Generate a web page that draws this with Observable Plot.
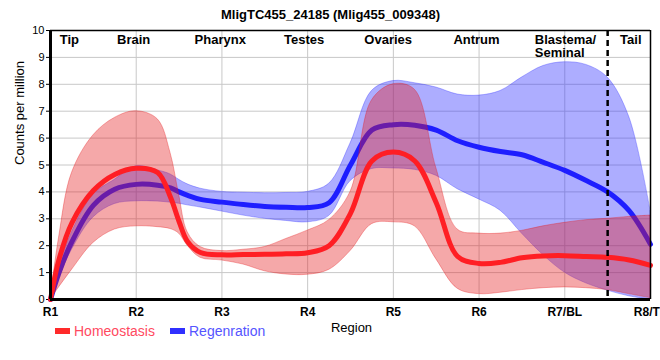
<!DOCTYPE html>
<html>
<head>
<meta charset="utf-8">
<script src="https://cdn.jsdelivr.net/npm/d3@7"></script>
<script src="https://cdn.jsdelivr.net/npm/@observablehq/plot@0.6"></script>
<style>
  html, body { margin: 0; padding: 0; background: white; overflow: hidden; }
  #wrap { position: relative; width: 660px; height: 360px; font-family: "Liberation Sans", Arial, sans-serif; }
  .leg { position: absolute; top: 323px; display: flex; align-items: center; gap: 4px; font-size: 14px; line-height: 16px; }
  .sw { display: inline-block; width: 15px; height: 6px; }
</style>
</head>
<body>
<div id="wrap"></div>
<script>
// Sampled positions along the body (1 = R1 ... 8 = R8)
const pos = [1, 1.1, 1.25, 1.5, 1.75, 2, 2.25, 2.4, 2.5, 2.6, 2.75, 3, 3.25, 3.5, 3.75, 4, 4.25, 4.5, 4.75, 5, 5.25, 5.5, 5.75, 6, 6.25, 6.5, 6.75, 7, 7.25, 7.5, 7.75, 8];

// Homeostasis: mean and band
const homMean = [0, 1.5, 2.85, 4.05, 4.65, 4.88, 4.72, 3.8, 2.9, 2.15, 1.75, 1.66, 1.67, 1.68, 1.7, 1.74, 2.0, 3.2, 5.15, 5.48, 5.15, 3.6, 1.6, 1.34, 1.38, 1.55, 1.62, 1.63, 1.6, 1.57, 1.47, 1.27];
const homLo   = [0, 0.45, 1.1, 2.1, 2.6, 2.72, 2.69, 2.62, 2.45, 2.0, 1.55, 1.45, 1.3, 1.05, 0.93, 0.92, 1.1, 1.8, 2.8, 2.87, 2.72, 1.5, 0.4, 0.2, 0.25, 0.35, 0.42, 0.45, 0.42, 0.35, 0.2, 0.05];
const homHi   = [0, 2.3, 4.7, 6.1, 6.75, 7.0, 6.7, 5.45, 3.9, 2.5, 1.95, 1.8, 1.85, 1.95, 2.25, 2.56, 2.95, 4.0, 7.4, 8.0, 7.8, 4.9, 2.6, 2.45, 2.45, 2.55, 2.72, 2.85, 2.95, 3.0, 3.07, 3.12];

// Regeneration: mean and band
const regMean = [0, 1.0, 2.15, 3.5, 4.1, 4.28, 4.25, 4.15, 4.0, 3.87, 3.72, 3.62, 3.53, 3.46, 3.43, 3.42, 3.6, 5.0, 6.3, 6.5, 6.48, 6.3, 5.9, 5.66, 5.5, 5.38, 5.1, 4.8, 4.42, 4.0, 3.3, 2.05];
const regLo   = [0, 0.8, 1.85, 3.05, 3.55, 3.65, 3.64, 3.6, 3.56, 3.5, 3.42, 3.27, 3.12, 3.0, 2.92, 2.87, 3.1, 4.4, 4.85, 4.87, 4.82, 4.6, 4.1, 3.72, 3.3, 2.45, 1.65, 1.0, 0.6, 0.33, 0.12, 0];
const regHi   = [0, 1.2, 2.5, 3.9, 4.45, 4.95, 4.8, 4.65, 4.45, 4.28, 4.12, 4.0, 3.97, 3.95, 3.96, 4.0, 4.3, 5.8, 7.75, 8.12, 8.04, 7.88, 7.62, 7.58, 7.75, 8.25, 8.68, 8.82, 8.72, 8.25, 6.8, 3.3];

// Axis ticks and labels
const xTicks = [1, 2, 3, 4, 5, 6, 7, 8];
const xTickLabels = ["R1", "R2", "R3", "R4", "R5", "R6", "R7/BL", "R8/TL"];
const yTicks = [0, 1, 2, 3, 4, 5, 6, 7, 8, 9, 10];

// Region annotations
const regionNames = ["Tip", "Brain", "Pharynx", "Testes", "Ovaries", "Antrum", "Tail"];
const regionPos   = [1.22, 1.97, 2.98, 3.96, 4.94, 5.97, 7.77];
const blastemaName = ["Blastema/\nSeminal"];
const blastemaPos = [6.65];
const tailBoundary = [7.5];

const data = pos.map((p, i) => ({
  p, hm: homMean[i], hl: homLo[i], hh: homHi[i],
  rm: regMean[i], rl: regLo[i], rh: regHi[i]
}));

const RED = "#ff1e24";
const BLUE = "#1e1eff";
const curve = "catmull-rom";

const chart = Plot.plot({
  width: 660,
  height: 360,
  marginTop: 30,
  marginBottom: 61,
  marginLeft: 50,
  marginRight: 10,
  x: {domain: [1, 8], axis: null},
  y: {domain: [0, 10], ticks: 10, tickSize: 4, tickPadding: 2, label: null},
  style: {fontFamily: "Liberation Sans, Arial, sans-serif", fontSize: "11px", background: "white", color: "black"},
  marks: [
    Plot.ruleY(yTicks, {stroke: "#c8c8c8", strokeWidth: 1}),
    Plot.ruleX(xTicks, {stroke: "#c8c8c8", strokeWidth: 1}),
    Plot.areaY(data, {x: "p", y1: "rl", y2: "rh", curve, fill: "#3333ff", fillOpacity: 0.4, stroke: "#3333ff", strokeOpacity: 0.35, strokeWidth: 1}),
    Plot.line(data, {x: "p", y: "rm", curve, stroke: BLUE, strokeWidth: 5}),
    Plot.areaY(data, {x: "p", y1: "hl", y2: "hh", curve, fill: "#e41a1c", fillOpacity: 0.38, stroke: "#e41a1c", strokeOpacity: 0.35, strokeWidth: 1}),
    Plot.line(data, {x: "p", y: "hm", curve, stroke: RED, strokeWidth: 5}),
    Plot.ruleX(tailBoundary, {stroke: "black", strokeWidth: 2.5, strokeDasharray: "6,4"}),
    Plot.ruleY([10], {stroke: "black", strokeWidth: 1.5}),
    Plot.ruleX([8], {stroke: "black", strokeWidth: 1.5}),
    Plot.ruleX([1], {stroke: "black", strokeWidth: 3}),
    Plot.ruleY([0], {stroke: "black", strokeWidth: 3}),
    Plot.text(xTicks, {x: d => d, text: (d, i) => xTickLabels[i], frameAnchor: "bottom", lineAnchor: "top", dy: 8, fontSize: 12, fontWeight: "bold"}),
    Plot.text(regionNames, {x: (d, i) => regionPos[i], text: d => d, frameAnchor: "top", lineAnchor: "top", dy: 4, fontSize: 13, fontWeight: "bold"}),
    Plot.text(blastemaName, {x: (d, i) => blastemaPos[i], text: d => d, frameAnchor: "top", lineAnchor: "top", textAnchor: "start", dy: 4, fontSize: 13, fontWeight: "bold", lineHeight: 1}),
    Plot.text(["MligTC455_24185 (Mlig455_009348)"], {frameAnchor: "top", dx: -20, dy: -21, fontSize: 13, fontWeight: "bold"}),
    Plot.text(["Counts per million"], {frameAnchor: "left", rotate: -90, dx: -31, fontSize: 13}),
    Plot.text(["Region"], {frameAnchor: "bottom", dx: 1, dy: 32, fontSize: 13})
  ]
});

const wrap = document.getElementById("wrap");
wrap.appendChild(chart);

const legendItems = [
  {label: "Homeostasis", swatch: "#ff2a2a", text: "#ff4a5f", left: 55},
  {label: "Regenration", swatch: "#3030ff", text: "#5555ff", left: 170}
];
for (const it of legendItems) {
  const d = document.createElement("div");
  d.className = "leg";
  d.style.left = it.left + "px";
  d.style.color = it.text;
  const s = document.createElement("span");
  s.className = "sw";
  s.style.background = it.swatch;
  const t = document.createElement("span");
  t.textContent = it.label;
  d.appendChild(s);
  d.appendChild(t);
  wrap.appendChild(d);
}
</script>
</body>
</html>
